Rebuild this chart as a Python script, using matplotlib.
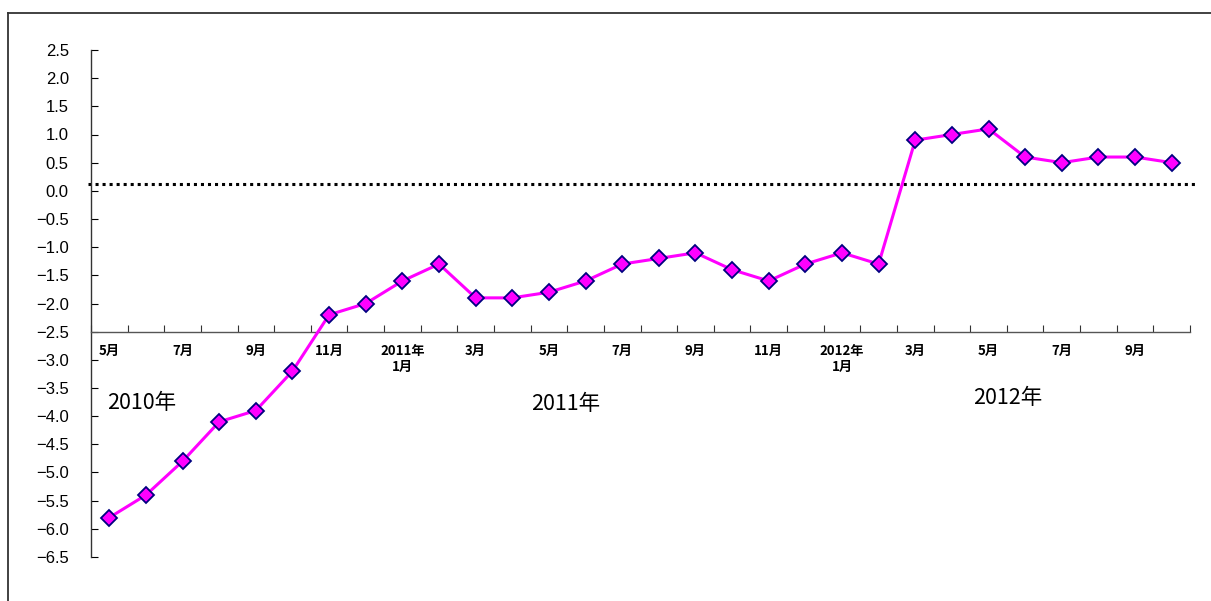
import matplotlib
matplotlib.use("Agg")
import matplotlib.pyplot as plt
import matplotlib.transforms as mtransforms
from matplotlib.lines import Line2D
import numpy as np

# monthly values, May 2010 .. Oct 2012
values = [-5.8, -5.4, -4.8, -4.1, -3.9, -3.2, -2.2, -2.0,
          -1.6, -1.3, -1.9, -1.9, -1.8, -1.6, -1.3, -1.2, -1.1, -1.4, -1.6, -1.3,
          -1.1, -1.3, 0.9, 1.0, 1.1, 0.6, 0.5, 0.6, 0.6, 0.5]
tick_labels = ["5月", "", "7月", "", "9月", "", "11月", "",
               "2011年\n1月", "", "3月", "", "5月", "", "7月", "", "9月", "", "11月", "",
               "2012年\n1月", "", "3月", "", "5月", "", "7月", "", "9月", ""]
year_labels = ["2010年", "2011年", "2012年"]
year_pos = [(-0.05, -3.77), (11.5, -3.78), (23.57, -3.68)]
ref_level = 0.13

fig = plt.figure(figsize=(12.11, 6.01), dpi=100)
ax = fig.add_axes([91 / 1211, 44 / 601, 1099 / 1211, 507 / 601])

x = np.arange(len(values))
ax.plot(x, values, color="#FF00FF", lw=2.2, marker="D", markersize=8,
        markerfacecolor="#FF00FF", markeredgecolor="#000080", markeredgewidth=1.3,
        zorder=3)

# dotted reference line
trans = mtransforms.blended_transform_factory(ax.transAxes, ax.transData)
ax.plot([-0.003, 1.006], [ref_level, ref_level], transform=trans, color="black",
        lw=2.2, linestyle=(0, (1, 1.3)), clip_on=False, zorder=2)

ax.set_xlim(-0.5, len(values) - 0.5)
ax.set_ylim(-6.5, 2.5)

for s in ["top", "right"]:
    ax.spines[s].set_visible(False)
ax.spines["left"].set_color("#333333")
ax.spines["bottom"].set_color("#555555")
ax.spines["bottom"].set_position(("data", -2.5))
ax.spines["left"].set_linewidth(1.0)
ax.spines["bottom"].set_linewidth(1.0)

ax.set_yticks(np.arange(-6.5, 2.51, 0.5))
ax.set_yticklabels([f"{v:.1f}".replace("-", "\u2212") for v in np.arange(-6.5, 2.51, 0.5)],
                   fontfamily="Liberation Sans", fontsize=12)
ax.tick_params(axis="y", direction="in", length=5, pad=16, colors="black")

# category boundaries as ticks, labels centered on categories
ax.set_xticks(np.arange(-0.5, len(values), 1.0))
ax.set_xticklabels([])
ax.set_xticks(x, minor=True)
ax.set_xticklabels(tick_labels, minor=True, fontfamily="Noto Sans CJK JP",
                   fontsize=9.5, fontweight="bold", linespacing=1.2)
ax.tick_params(axis="x", which="major", direction="in", length=5, color="#333333")
ax.tick_params(axis="x", which="minor", length=0, pad=9)

for lab, (px, py) in zip(year_labels, year_pos):
    ax.text(px, py, lab, fontsize=15.5, fontfamily="Noto Sans CJK JP",
            ha="left", va="center")

# outer chart border (top and left edges visible)
fig.add_artist(Line2D([8 / 1211, 8 / 1211], [0, 1 - 13 / 601], color="#333333", lw=1.3))
fig.add_artist(Line2D([8 / 1211, 1], [1 - 13 / 601, 1 - 13 / 601], color="#333333", lw=1.3))

fig.savefig("out.png", dpi=100)
